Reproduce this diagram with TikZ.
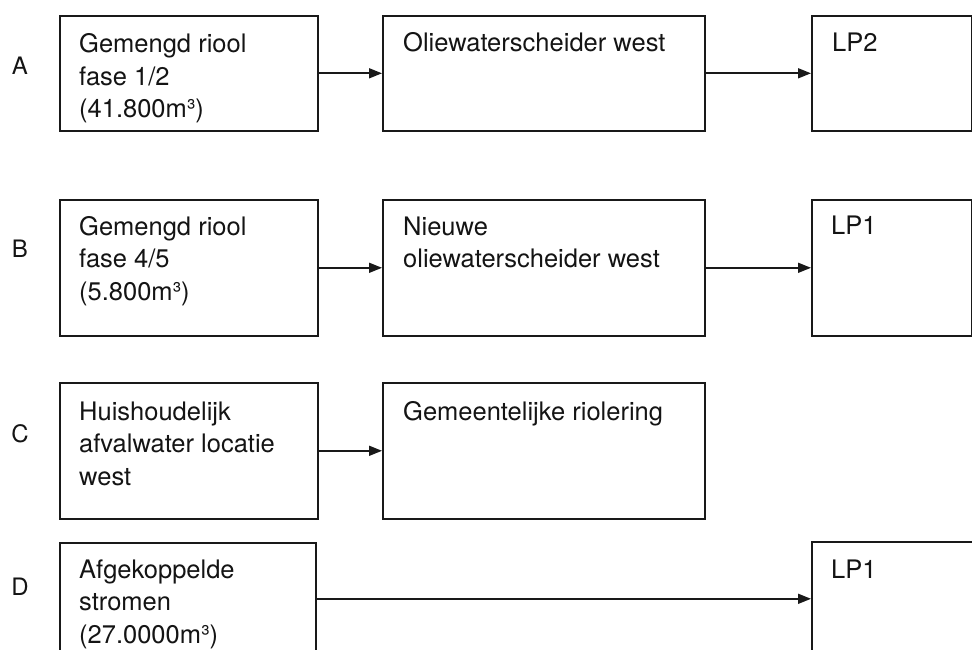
\documentclass[tikz,border=0pt]{standalone}
\usepackage{fontspec}
\setmainfont{TeX Gyre Heros}
\usetikzlibrary{arrows.meta}
\begin{document}
\begin{tikzpicture}[x=1pt,y=-1pt,
  box/.style={draw=black!90,line width=1.6pt,rectangle,inner sep=0pt,anchor=north west},
  txt/.style={anchor=base west,align=left,inner sep=0pt,font=\fontsize{25.5}{32.5}\selectfont,text=black!92},
  rowlbl/.style={anchor=base,inner sep=0pt,font=\fontsize{24}{28}\selectfont,text=black!92},
  flow/.style={line width=1.6pt,draw=black!90,-{Triangle[length=13pt,width=10pt]}}]
\useasboundingbox[fill=white] (0,0) rectangle (972,650);
% row A
\node[box,minimum width=258pt,minimum height=115pt] (a1) at (59,15) {};
\node[box,minimum width=322pt,minimum height=115pt] (a2) at (382,15) {};
\node[box,minimum width=160pt,minimum height=115pt] (a3) at (811,15) {};
% row B
\node[box,minimum width=258pt,minimum height=136pt] (b1) at (59,199) {};
\node[box,minimum width=322pt,minimum height=136pt] (b2) at (382,199) {};
\node[box,minimum width=160pt,minimum height=136pt] (b3) at (811,199) {};
% row C
\node[box,minimum width=258pt,minimum height=136pt] (c1) at (59,382) {};
\node[box,minimum width=322pt,minimum height=136pt] (c2) at (382,382) {};
% row D
\node[box,minimum width=256pt,minimum height=112pt] (d1) at (59,542) {};
\node[box,minimum width=175pt,minimum height=114pt] (d3) at (811,541) {};
% texts (base = baseline of last line)
\node[txt] (ta1) at (79,118) {Gemengd riool\\fase 1/2\\(41.800m³)};
\node[txt] (ta2) at (403,52) {Oliewaterscheider west};
\node[txt] (ta3) at (832,52) {LP2};
\node[txt] (tb1) at (79,300) {Gemengd riool\\fase 4/5\\(5.800m³)};
\node[txt] (tb2) at (403,267.5) {Nieuwe\\oliewaterscheider west};
\node[txt] (tb3) at (831,234) {LP1};
\node[txt] (tc1) at (79,485) {Huishoudelijk\\afvalwater locatie\\west};
\node[txt] (tc2) at (403,420) {Gemeentelijke riolering};
\node[txt] (td1) at (79,643) {Afgekoppelde\\stromen\\(27.0000m³)};
\node[txt] (td3) at (831,578) {LP1};
% row labels
\node[rowlbl] (la) at (20,75) {A};
\node[rowlbl] (lb) at (20,257) {B};
\node[rowlbl] (lc) at (20,442) {C};
\node[rowlbl] (ld) at (20,595) {D};
% arrows
\draw[flow] (a1.east) -- (a2.west);
\draw[flow] (a2.east) -- (a3.west);
\draw[flow] (b1.east) -- (b2.west);
\draw[flow] (b2.east) -- (b3.west);
\draw[flow] (c1.east) -- (c2.west);
\draw[flow] (d1.east) -- (d3.west);
\end{tikzpicture}
\end{document}
